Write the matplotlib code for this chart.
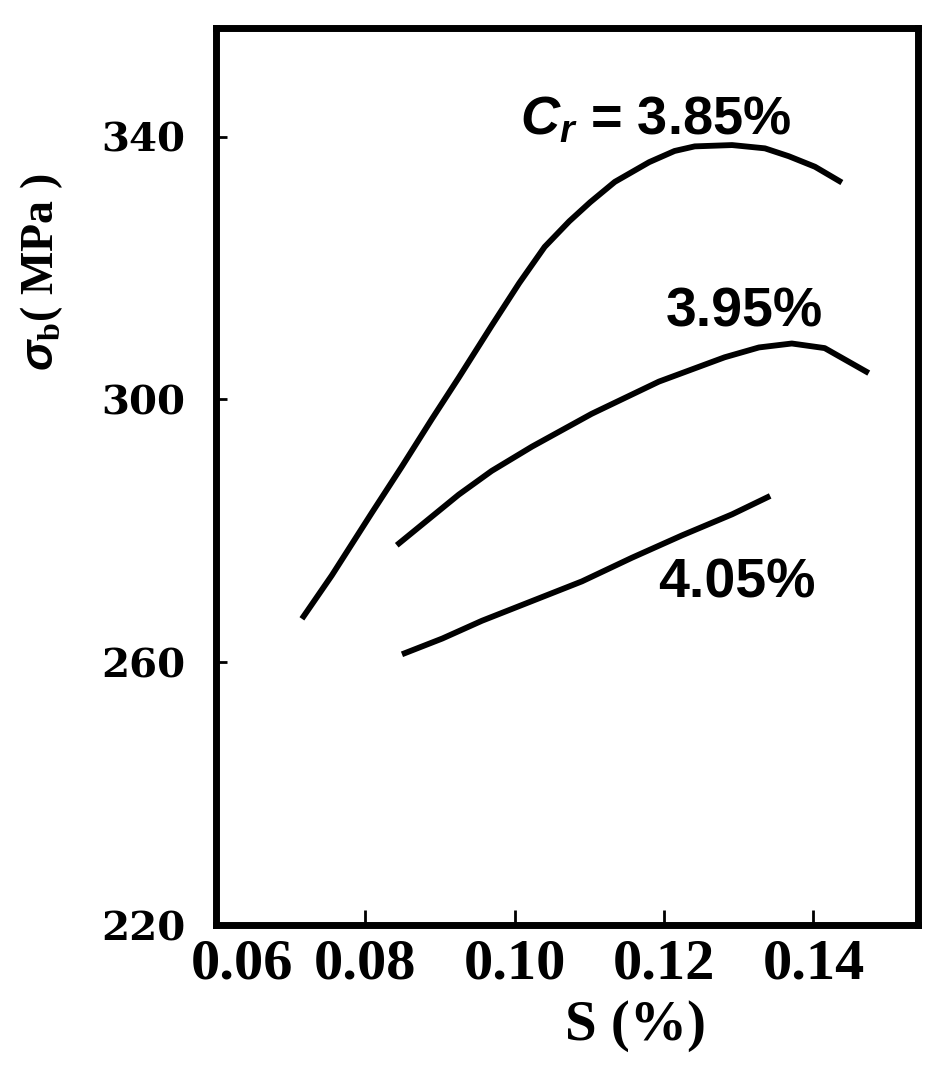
import numpy as np
import matplotlib.pyplot as plt
import matplotlib.transforms as mtransforms

plt.rcParams["mathtext.fontset"] = "custom"
plt.rcParams["mathtext.it"] = "Liberation Sans:italic:bold"
plt.rcParams["mathtext.rm"] = "Liberation Serif:bold"

# S content (%) and tensile strength (MPa)
s_385 = [0.0715, 0.0755, 0.0809, 0.0849, 0.0889, 0.0925, 0.0969, 0.1006, 0.1040, 0.1073,
         0.1101, 0.1134, 0.1180, 0.1214, 0.1241, 0.1291, 0.1335, 0.1367, 0.1402, 0.1438]
sb_385 = [266.6, 273.2, 282.8, 289.8, 297.0, 303.3, 311.2, 317.7, 323.2, 327.1,
          330.0, 333.1, 336.1, 337.8, 338.5, 338.7, 338.2, 337.0, 335.4, 333.0]

s_395 = [0.0842, 0.0925, 0.0969, 0.1023, 0.1103, 0.1193, 0.1281, 0.1327, 0.1371, 0.1415, 0.1474]
sb_395 = [277.8, 285.5, 289.1, 292.8, 297.8, 302.7, 306.4, 307.9, 308.5, 307.8, 304.0]

s_405 = [0.0849, 0.0903, 0.0956, 0.1023, 0.1090, 0.1157, 0.1224, 0.1291, 0.1342]
sb_405 = [261.2, 263.6, 266.3, 269.3, 272.3, 275.9, 279.3, 282.5, 285.3]

x_ticks = [0.06, 0.08, 0.10, 0.12, 0.14]
x_tick_labels = ["0.06", "0.08", "0.10", "0.12", "0.14"]
y_ticks = [220, 260, 300, 340]
y_tick_labels = ["220", "260", "300", "340"]

fig = plt.figure(figsize=(9.36, 10.81), dpi=100)
ax = fig.add_axes([0.2308, 0.1443, 0.75, 0.8297])

for xs, ys in [(s_385, sb_385), (s_395, sb_395), (s_405, sb_405)]:
    ax.plot(xs, ys, color="black", linewidth=4.2, solid_capstyle="butt", solid_joinstyle="round")

ax.set_xlim(0.06, 0.154)
ax.set_ylim(220, 356.5)

for sp in ax.spines.values():
    sp.set_linewidth(5)

ax.set_xticks(x_ticks)
ax.set_xticklabels(x_tick_labels, fontsize=42, family="Liberation Serif", weight="bold")
ax.set_yticks(y_ticks)
ax.set_yticklabels(y_tick_labels, fontsize=29, family="DejaVu Serif", weight="bold")
ax.tick_params(axis="x", direction="in", length=11, width=2, pad=10)
ax.tick_params(axis="y", direction="in", length=8, width=2, pad=22)

# nudge the first x label off the corner
lbl = ax.get_xticklabels()[0]
lbl.set_transform(lbl.get_transform() + mtransforms.ScaledTranslation(0.26, 0, fig.dpi_scale_trans))

ax.set_xlabel("S (%)", fontsize=41, family="Liberation Serif", weight="bold")
ax.xaxis.set_label_coords(0.597, -0.084)
ax.set_ylabel(r"$\sigma_{\mathrm{b}}$( MPa )", fontsize=33, family="Liberation Serif", weight="bold")
ax.yaxis.set_label_coords(-0.215, 0.728)

sans = dict(family="Liberation Sans", weight="bold")
ax.text(0.433, 0.897, r"$C_r$ = 3.85%", transform=ax.transAxes, fontsize=39,
        ha="left", va="center", **sans)
ax.text(0.640, 0.683, "3.95%", transform=ax.transAxes, fontsize=40, ha="left", va="center", **sans)
ax.text(0.630, 0.381, "4.05%", transform=ax.transAxes, fontsize=40, ha="left", va="center", **sans)

fig.savefig("out.png", dpi=100)
